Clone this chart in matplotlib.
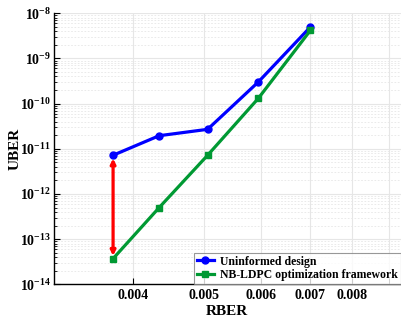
import matplotlib
matplotlib.use("Agg")
import matplotlib.pyplot as plt
from matplotlib.ticker import FixedLocator, NullFormatter, FixedFormatter

plt.rcParams['font.family'] = ['Liberation Serif', 'DejaVu Serif']
plt.rcParams['font.weight'] = 'bold'
plt.rcParams['mathtext.fontset'] = 'custom'
plt.rcParams['mathtext.rm'] = 'Liberation Serif:bold'
plt.rcParams['mathtext.it'] = 'Liberation Serif:bold'
plt.rcParams['mathtext.bf'] = 'Liberation Serif:bold'
plt.rcParams['mathtext.default'] = 'rm'

rber = [0.00375, 0.00434, 0.00506, 0.00594, 0.00701]
uber_uninformed = [7.2e-12, 1.95e-11, 2.7e-11, 3.0e-10, 5.0e-9]
uber_nbldpc = [3.7e-14, 5.0e-13, 7.2e-12, 1.3e-10, 4.2e-9]
xtick_vals = [0.004, 0.005, 0.006, 0.007, 0.008]
xtick_labels = ['0.004', '0.005', '0.006', '0.007', '0.008']
xtick_unlabeled = [0.009]
ytick_exps = [-14, -13, -12, -11, -10, -9, -8]
series_names = ['Uninformed design', 'NB-LDPC optimization framework']

fig = plt.figure(figsize=(4.01, 3.2), dpi=100)
ax = fig.add_axes([0.134, 0.1116, 0.866, 0.8468])
ax.set_xscale('log')
ax.set_yscale('log')
ax.set_xlim(0.003107, 0.00934)
ax.set_ylim(1e-14, 1e-8)

ax.plot(rber, uber_uninformed, color='#0000ff', lw=2.3, marker='o', ms=5,
        mfc='#0000ff', mec='#0000ff', label=series_names[0], zorder=4)
ax.plot(rber, uber_nbldpc, color='#009933', lw=2.3, marker='s', ms=5,
        mfc='#009933', mec='#009933', label=series_names[1], zorder=4)

ax.annotate('', xy=(rber[0], uber_nbldpc[0] * 1.15), xytext=(rber[0], uber_uninformed[0] * 0.85),
            arrowprops=dict(arrowstyle='<|-|>', color='#ff0000', lw=2.3,
                            mutation_scale=7, shrinkA=0, shrinkB=0), zorder=5)

ax.xaxis.set_major_locator(FixedLocator(xtick_vals))
ax.xaxis.set_major_formatter(FixedFormatter(xtick_labels))
ax.xaxis.set_minor_locator(FixedLocator(xtick_unlabeled))
ax.xaxis.set_minor_formatter(NullFormatter())

ymaj = [10.0 ** e for e in ytick_exps]
ymin = [m * 10.0 ** e for e in ytick_exps[:-1] for m in range(2, 10)]
ax.yaxis.set_major_locator(FixedLocator(ymaj))
ax.yaxis.set_major_formatter(FixedFormatter([r'$10^{%d}$' % e for e in ytick_exps]))
ax.yaxis.set_minor_locator(FixedLocator(ymin))
ax.yaxis.set_minor_formatter(NullFormatter())

ax.grid(True, which='major', color='#e6e6e6', lw=0.8, ls='-')
ax.grid(True, which='minor', axis='x', color='#e6e6e6', lw=0.8, ls='-')
ax.grid(True, which='minor', axis='y', color='#e6e6e6', lw=0.6, ls=(0, (2, 2)))
ax.set_axisbelow(True)

for s in ['top', 'right']:
    ax.spines[s].set_visible(False)
ax.spines['left'].set_linewidth(1.0)
ax.spines['bottom'].set_linewidth(1.0)

ax.tick_params(which='both', direction='in', labelsize=10)
ax.tick_params(which='major', length=4)
ax.tick_params(which='minor', length=2)
ax.tick_params(axis='x', which='minor', length=4)
ax.tick_params(axis='y', pad=2)

ax.set_xlabel('RBER', fontsize=11, fontweight='bold', labelpad=2)
ax.set_ylabel('UBER', fontsize=11, fontweight='bold', labelpad=-1)

leg = ax.legend(loc='lower right', fontsize=8.5, frameon=True, fancybox=False,
                edgecolor='#808080', borderpad=0.25, handlelength=1.5,
                labelspacing=0.15, handletextpad=0.5, borderaxespad=0.0)
leg.get_frame().set_linewidth(0.8)
for t in leg.get_texts():
    t.set_fontweight('bold')

fig.savefig('out.png', dpi=100)
